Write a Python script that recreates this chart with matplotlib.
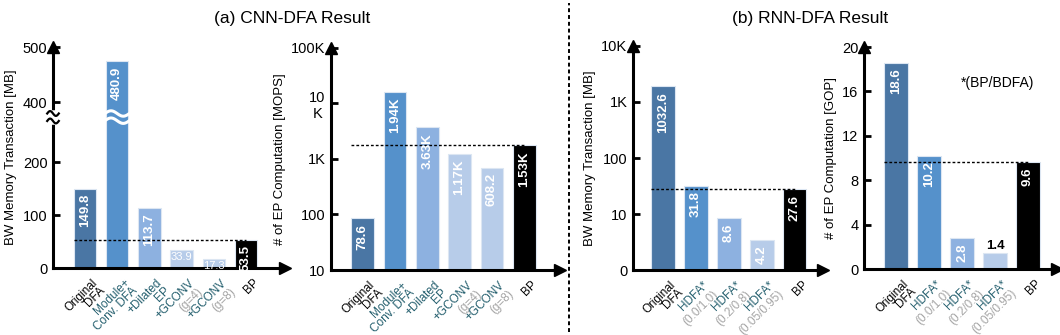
import numpy as np
import matplotlib
matplotlib.use("Agg")
import matplotlib.pyplot as plt
from matplotlib.lines import Line2D
from matplotlib.transforms import blended_transform_factory

plt.rcParams['font.family'] = ['Liberation Sans', 'DejaVu Sans']

# ---- data ----
cnn_labels = ["Original\nDFA", "Module+\nConv. DFA", "+Dilated\nEP", "+GCONV", "+GCONV", "BP"]
cnn_sub = ["", "", "", "(g=4)", "(g=8)", ""]
cnn_bw = [149.8, 475, 113.7, 33.9, 17.3, 53.5]
cnn_bw_text = ["149.8", "480.9", "113.7", "33.9", "17.3", "53.5"]
cnn_ep = [85, 16000, 3700, 1250, 700, 1750]
cnn_ep_text = ["78.6", "1.94K", "3.63K", "1.17K", "608.2", "1.53K"]

rnn_labels = ["Original\nDFA", "HDFA*", "HDFA*", "HDFA*", "BP"]
rnn_sub = ["", "(0.0/1.0)", "(0.2/0.8)", "(0.05/0.95)", ""]
rnn_bw = [1900, 31.8, 8.6, 3.4, 27.6]
rnn_bw_text = ["1032.6", "31.8", "8.6", "4.2", "27.6"]
rnn_ep = [18.6, 10.2, 2.8, 1.4, 9.6]
rnn_ep_text = ["18.6", "10.2", "2.8", "1.4", "9.6"]

cnn_colors = ["#4A76A4", "#5591CB", "#8DB1E0", "#B7CCE9", "#B7CCE9", "#000000"]
rnn_colors = ["#4A76A4", "#5591CB", "#8DB1E0", "#B7CCE9", "#000000"]
teal = "#245F6E"
gray = "#A5A5A5"

fig = plt.figure(figsize=(10.6, 3.35), dpi=100)

ax1 = fig.add_axes([0.0500, 0.200, 0.2189, 0.6597])
ax2 = fig.add_axes([0.3123, 0.194, 0.2160, 0.6630])
ax3 = fig.add_axes([0.5972, 0.194, 0.1792, 0.6687])
ax4 = fig.add_axes([0.8151, 0.197, 0.1821, 0.6627])


def style_axis(ax, xlim):
    for s in ["top", "right"]:
        ax.spines[s].set_visible(False)
    for s in ["left", "bottom"]:
        ax.spines[s].set_linewidth(2.2)
    ax.set_xlim(*xlim)
    ax.set_xticks([])
    ax.tick_params(axis='y', direction='in', length=5, width=2, labelsize=10.5, pad=4)
    ax.minorticks_off()
    ax.plot(0, 1.0, '^k', ms=9, transform=ax.transAxes, clip_on=False)
    ax.plot(1.0, 0, '>k', ms=9, transform=ax.transAxes, clip_on=False)


def xlabels(ax, names, subs):
    trans = ax.get_xaxis_transform()
    for i, (n, s) in enumerate(zip(names, subs)):
        c = "black" if (i == 0 or n == "BP") else teal
        ax.text(i + 0.2, -0.04, n, transform=trans, rotation=45, ha='right', va='top',
                rotation_mode='anchor', fontsize=8.5, color=c, linespacing=0.85,
                family=['Liberation Sans Narrow', 'Liberation Sans'])
        if s:
            ax.annotate(s, xy=(i + 0.2, -0.04), xycoords=trans,
                        xytext=(6.5, -6.5), textcoords='offset points',
                        rotation=45, ha='right', va='top', rotation_mode='anchor',
                        fontsize=8.5, color=gray,
                        family=['Liberation Sans Narrow', 'Liberation Sans'])


def bars(ax, vals, colors):
    x = np.arange(len(vals))
    ax.bar(x, vals, width=0.7, color=colors, edgecolor="#DCE6F2", linewidth=0.8, zorder=2)
    # dotted reference line at BP level
    ax.plot([x[0] - 0.35, x[-1]], [vals[-1], vals[-1]], ls=(0, (2, 1.5)), color='black',
            lw=1, zorder=3)
    return x


# ---- panel 1: broken linear axis ----
fwd_pts = np.array([0, 200, 400, 500])
scl_pts = np.array([0, 200, 313, 417])


def fwd(v):
    return np.interp(v, fwd_pts, scl_pts)


def inv(v):
    return np.interp(v, scl_pts, fwd_pts)


ax1.set_yscale('function', functions=(fwd, inv))
ax1.set_ylim(0, 500)
style_axis(ax1, (-0.99, 6.21))
bars(ax1, cnn_bw, cnn_colors)
ax1.set_yticks([0, 100, 200, 400, 500])
ax1.set_yticklabels(["0", "100", "200", "400", "500"])
for i, (v, t) in enumerate(zip(cnn_bw, cnn_bw_text)):
    if v < 50:
        ax1.annotate(t, (i, v), xytext=(0, -1.5), textcoords='offset points',
                     ha='center', va='top', color='white', fontsize=8)
    else:
        ax1.annotate(t, (i, v), xytext=(0, -4), textcoords='offset points',
                     ha='center', va='top', rotation=90, color='white',
                     fontsize=9.5, fontweight='bold')
# wavy break across tall bar
xs = np.linspace(0.62, 1.38, 60)
for yb in (338, 362):
    ax1.plot(xs, yb + 9 * np.sin(2 * np.pi * (xs - 0.62) / 0.76), color='white', lw=2.2, zorder=4)
# break mark on spine
bt = blended_transform_factory(ax1.transAxes, ax1.transData)
ax1.plot([0, 0], [335, 365], color='white', lw=4, transform=bt, clip_on=False, zorder=5)
xs2 = np.linspace(-0.025, 0.025, 30)
for yb in (337, 362):
    ax1.plot(xs2, yb + 8 * np.sin(2 * np.pi * (xs2 + 0.025) / 0.05), color='black', lw=1.6,
             transform=bt, clip_on=False, zorder=6)
ax1.set_ylabel("BW Memory Transaction [MB]", fontsize=9.5, labelpad=4)
xlabels(ax1, cnn_labels, cnn_sub)

# ---- panel 2: log ----
ax2.set_yscale('log')
ax2.set_ylim(10, 100000)
style_axis(ax2, (-0.97, 6.1))
bars(ax2, cnn_ep, cnn_colors)
ax2.set_yticks([10, 100, 1000, 10000, 100000])
ax2.set_yticklabels(["10", "100", "1K", "10\nK", "100K"], multialignment='center')
ax2.minorticks_off()
for i, (v, t) in enumerate(zip(cnn_ep, cnn_ep_text)):
    ax2.annotate(t, (i, v), xytext=(0, -4), textcoords='offset points',
                 ha='center', va='top', rotation=90, color='white',
                 fontsize=9.5, fontweight='bold')
ax2.set_ylabel("# of EP Computation [MOPS]", fontsize=9.5, labelpad=4)
xlabels(ax2, cnn_labels, cnn_sub)

# ---- panel 3: log ----
ax3.set_yscale('log')
ax3.set_ylim(1, 10000)
style_axis(ax3, (-0.91, 4.85))
bars(ax3, rnn_bw, rnn_colors)
ax3.set_yticks([1, 10, 100, 1000, 10000])
ax3.set_yticklabels(["0", "10", "100", "1K", "10K"])
ax3.minorticks_off()
for i, (v, t) in enumerate(zip(rnn_bw, rnn_bw_text)):
    ax3.annotate(t, (i, v), xytext=(0, -4), textcoords='offset points',
                 ha='center', va='top', rotation=90, color='white',
                 fontsize=9.5, fontweight='bold')
ax3.set_ylabel("BW Memory Transaction [MB]", fontsize=9.5, labelpad=4)
xlabels(ax3, rnn_labels, rnn_sub)

# ---- panel 4: linear ----
ax4.set_ylim(0, 20)
style_axis(ax4, (-0.97, 4.88))
bars(ax4, rnn_ep, rnn_colors)
ax4.set_yticks([0, 4, 8, 12, 16, 20])
for i, (v, t) in enumerate(zip(rnn_ep, rnn_ep_text)):
    if v < 2:
        ax4.annotate(t, (i, v), xytext=(0, 1), textcoords='offset points',
                     ha='center', va='bottom', color='black',
                     fontsize=9.5, fontweight='bold')
    else:
        ax4.annotate(t, (i, v), xytext=(0, -4), textcoords='offset points',
                     ha='center', va='top', rotation=90, color='white',
                     fontsize=9.5, fontweight='bold')
ax4.text(0.69, 0.84, "*(BP/BDFA)", transform=ax4.transAxes, ha='center', va='center',
         fontsize=10)
ax4.set_ylabel("# of EP Computation [GOP]", fontsize=9.5, labelpad=4)
xlabels(ax4, rnn_labels, rnn_sub)

# ---- titles and separator ----
fig.text(292 / 1060, 1 - 19 / 335, "(a) CNN-DFA Result", ha='center', va='center', fontsize=12.5)
fig.text(810 / 1060, 1 - 19 / 335, "(b) RNN-DFA Result", ha='center', va='center', fontsize=12.5)
fig.add_artist(Line2D([569 / 1060] * 2, [0.01, 0.99], ls=(0, (2, 1.5)), color='black', lw=1.4))

fig.savefig("out.png", dpi=100)
